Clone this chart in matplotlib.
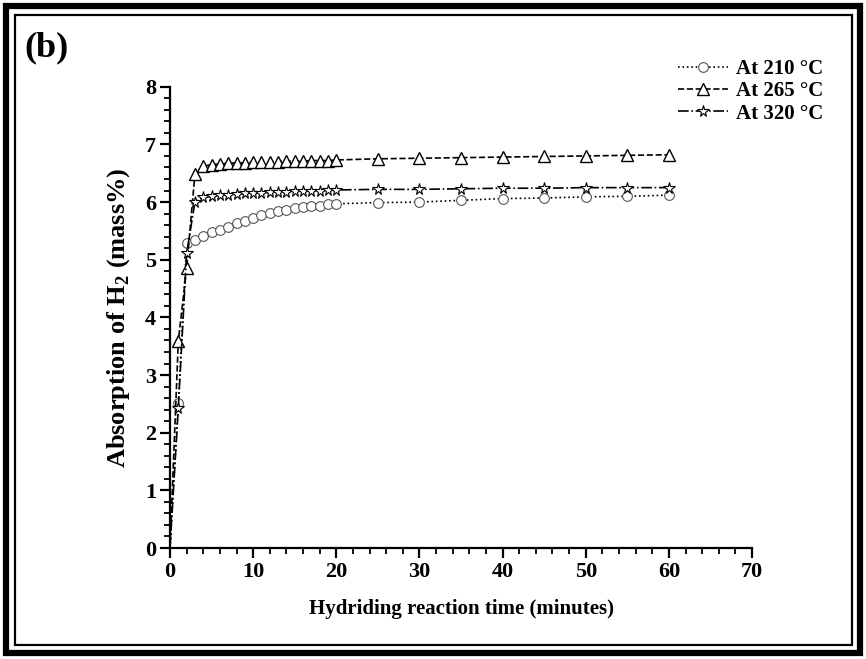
import matplotlib
matplotlib.use("Agg")
import matplotlib.pyplot as plt
from matplotlib.patches import Rectangle
from matplotlib.ticker import MultipleLocator

# ---- data ----
t_early = [0, 1, 2, 3, 4, 5, 6, 7, 8, 9, 10, 11, 12, 13, 14, 15, 16, 17, 18, 19, 20]
t_late = [25, 30, 35, 40, 45, 50, 55, 60]
time = t_early + t_late

h2_210 = [0, 2.51, 5.29, 5.35, 5.41, 5.48, 5.52, 5.57, 5.63, 5.68, 5.73, 5.77, 5.81,
          5.85, 5.87, 5.89, 5.92, 5.93, 5.94, 5.96, 5.97,
          5.99, 6.00, 6.03, 6.06, 6.07, 6.09, 6.10, 6.12]
h2_265 = [0, 3.59, 4.85, 6.49, 6.62, 6.65, 6.66, 6.67, 6.68, 6.68, 6.69, 6.69, 6.70,
          6.70, 6.71, 6.71, 6.71, 6.72, 6.72, 6.72, 6.73,
          6.75, 6.76, 6.77, 6.78, 6.79, 6.80, 6.81, 6.82]
h2_320 = [0, 2.43, 5.11, 6.00, 6.08, 6.10, 6.12, 6.13, 6.14, 6.15, 6.16, 6.16, 6.17,
          6.18, 6.18, 6.19, 6.19, 6.20, 6.20, 6.21, 6.21,
          6.22, 6.22, 6.23, 6.24, 6.24, 6.25, 6.25, 6.25]
labels = ["At 210 °C", "At 265 °C", "At 320 °C"]

plt.rcParams['font.family'] = ['Liberation Serif', 'DejaVu Serif']
plt.rcParams['font.weight'] = 'bold'
plt.rcParams['mathtext.fontset'] = 'custom'
plt.rcParams['mathtext.rm'] = 'Liberation Serif:bold'
plt.rcParams['mathtext.bf'] = 'Liberation Serif:bold'

fig = plt.figure(figsize=(8.66, 6.59), dpi=100)
ax = fig.add_axes([0.1963, 0.1684, 0.6721, 0.700])

mk = list(range(1, len(time)))
ax.plot(time, h2_210, linestyle=':', color='black', lw=1.2, marker='o', ms=7,
        mfc='white', mec='#555555', mew=0.8, markevery=mk, label=labels[0])
ax.plot(time, h2_265, linestyle='--', color='black', lw=1.2, marker='^', ms=8,
        mfc='white', mec='black', mew=1.0, markevery=mk, label=labels[1])
ax.plot(time, h2_320, linestyle='-.', color='black', lw=1.2, marker='*', ms=8.5,
        mfc='white', mec='black', mew=0.8, markevery=mk, label=labels[2])

ax.set_xlim(0, 70)
ax.set_ylim(0, 8)
ax.xaxis.set_major_locator(MultipleLocator(10))
ax.xaxis.set_minor_locator(MultipleLocator(2))
ax.yaxis.set_major_locator(MultipleLocator(1))
ax.yaxis.set_minor_locator(MultipleLocator(0.2))
for s in ['top', 'right']:
    ax.spines[s].set_visible(False)
for s in ['left', 'bottom']:
    ax.spines[s].set_linewidth(1.6)
ax.tick_params(which='major', direction='out', length=7, width=1.6, labelsize=16, pad=3)
ax.tick_params(which='minor', direction='out', length=4, width=1.3)
for lab in ax.get_xticklabels() + ax.get_yticklabels():
    lab.set_fontweight('bold')

ax.set_xlabel("Hydriding reaction time (minutes)", fontsize=15, fontweight='bold', labelpad=12)
ax.set_ylabel("Absorption of H$_\\mathbf{2}$ (mass%)", fontsize=19, fontweight='bold', labelpad=9)

leg = ax.legend(loc='upper right', bbox_to_anchor=(1.155, 1.10), frameon=False,
                prop={'size': 15, 'weight': 'bold'}, handlelength=2.4,
                labelspacing=0.1, handletextpad=0.4)

fig.text(0.028, 0.915, "(b)", fontsize=26, fontweight='bold')

# double frame around figure
fig.patches.append(Rectangle((6/866, 6/659), 1 - 12/866, 1 - 12/659, fill=False,
                             lw=4.5, ec='black', transform=fig.transFigure))
fig.patches.append(Rectangle((14.5/866, 14.5/659), 1 - 29/866, 1 - 29/659, fill=False,
                             lw=1.6, ec='black', transform=fig.transFigure))

fig.savefig("out.png", dpi=100)
